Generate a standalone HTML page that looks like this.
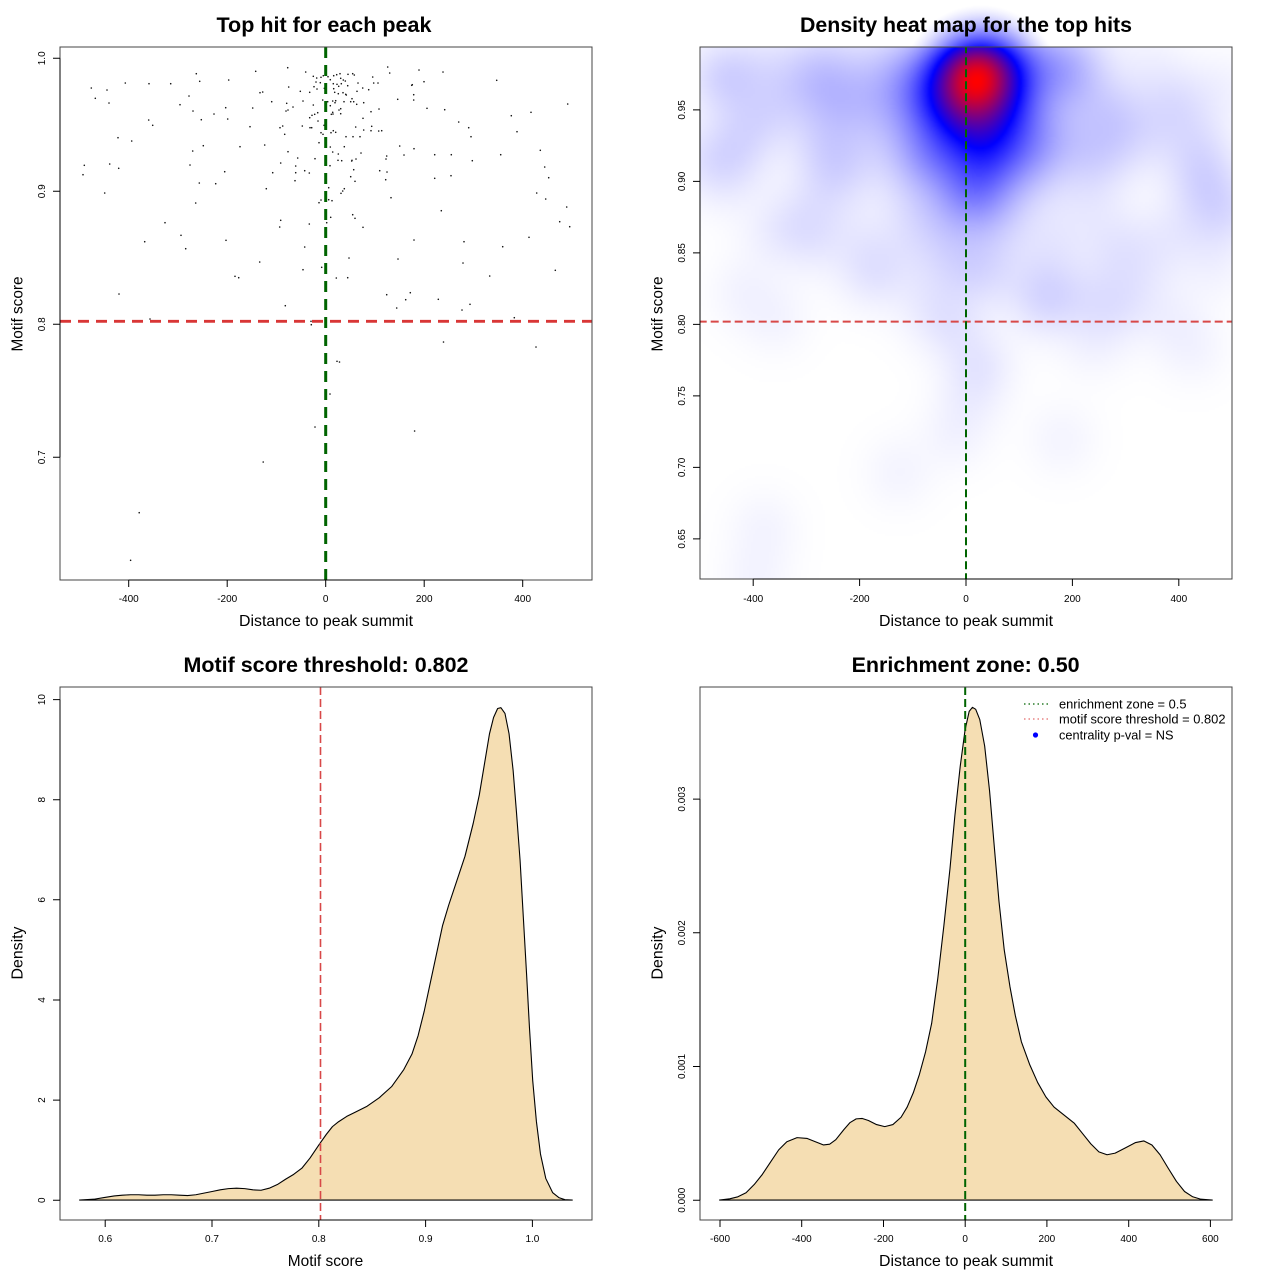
<!DOCTYPE html>
<html><head><meta charset="utf-8">
<style>
html,body{margin:0;padding:0;background:#fff;}
#wrap{position:relative;width:1280px;height:1280px;overflow:hidden;background:#fff;}
svg{position:absolute;left:0;top:0;}
#hm{position:absolute;left:700px;top:47px;width:532px;height:532px;}
text{font-family:"Liberation Sans",Arial,Helvetica,sans-serif;fill:#000;}
.t{font-weight:bold;font-size:21px;}
.al{font-size:16px;}
.tk{font-size:10px;}
.lg{font-size:12.5px;}
</style></head><body><div id="wrap">
<svg id="bg" width="1280" height="1280">
<defs>
<linearGradient id="lav" x1="0" y1="0" x2="0" y2="1">
<stop offset="0" stop-color="#d8d8ff"/><stop offset="0.5" stop-color="#eeeeff"/><stop offset="1" stop-color="#ffffff"/>
</linearGradient>
<radialGradient id="core" gradientUnits="userSpaceOnUse" cx="981" cy="85" r="80">
<stop offset="0" stop-color="#ff0000"/><stop offset="0.25" stop-color="#a00060"/><stop offset="0.45" stop-color="#0000ff"/><stop offset="0.75" stop-color="#8080ff" stop-opacity="0.6"/><stop offset="1" stop-color="#c0c0ff" stop-opacity="0"/>
</radialGradient>
</defs>
<rect x="700" y="47" width="532" height="532" fill="url(#lav)"/>
<ellipse cx="981" cy="85" rx="80" ry="100" fill="url(#core)"/>
</svg>
<canvas id="hm" width="266" height="266"></canvas>
<svg id="fg" width="1280" height="1280">
<!-- ============ Panel 1 ============ -->
<text class="t" x="324" y="32" text-anchor="middle" textLength="215" lengthAdjust="spacingAndGlyphs">Top hit for each peak</text>
<path id="pts" fill="none" stroke="#111" stroke-width="1.6" stroke-linecap="round" d="M287.7 67.7h0.01M255.7 71.3h0.01M305.7 72h0.01M196.3 73.7h0.01M313.3 76.3h0.01M316.7 78h0.01M228.7 80h0.01M199.7 81.3h0.01M125.3 83h0.01M149 83.7h0.01M170.7 83.7h0.01M316 82h0.01M314 86.7h0.01M317 89h0.01M91.3 88h0.01M107 90h0.01M288.7 87h0.01M300.3 91.3h0.01M309.7 92.3h0.01M260 92.7h0.01M262.7 92h0.01M189 96h0.01M95.3 98.3h0.01M109 103h0.01M271.7 101.7h0.01M286.7 103.3h0.01M303 101h0.01M180 104.7h0.01M313.3 105h0.01M293 107h0.01M225.7 107.7h0.01M252.7 108h0.01M193 111h0.01M288 110h0.01M286 111h0.01M317.7 112.7h0.01M314.7 114.3h0.01M312 115.3h0.01M214 114h0.01M309.7 117.7h0.01M148.7 120h0.01M201.3 119.7h0.01M227.7 119h0.01M318 121h0.01M152.7 125.3h0.01M250 126.7h0.01M282.7 126h0.01M280 127.7h0.01M302.3 126h0.01M310 127.7h0.01M311.7 127.7h0.01M284.7 134.3h0.01M118 137.7h0.01M131.7 141h0.01M319 142.7h0.01M203.3 145.7h0.01M264.7 145h0.01M240 146.7h0.01M192.7 151h0.01M288 151.7h0.01M297.7 158h0.01M315 158.7h0.01M280.7 163h0.01M84.3 165.3h0.01M109.7 164h0.01M118.7 168.3h0.01M190 165h0.01M295.7 166h0.01M224.7 171.7h0.01M272.7 172.7h0.01M295.7 172.7h0.01M304.7 170.7h0.01M309.3 173h0.01M83 174.7h0.01M295 180.7h0.01M199.3 183h0.01M215.7 183.7h0.01M266.3 188.7h0.01M387.7 67h0.01M419 70h0.01M389.7 73h0.01M443 72h0.01M333.7 75.7h0.01M336.7 74.7h0.01M340 73.7h0.01M348 74.3h0.01M352.7 73.7h0.01M354.3 75h0.01M323.3 75.7h0.01M321 77.3h0.01M328 76.7h0.01M372.7 77h0.01M330.3 79.7h0.01M340.7 78.3h0.01M343.3 80h0.01M345.3 81h0.01M496.7 80.3h0.01M424 81.7h0.01M320.3 82.7h0.01M333.3 83.7h0.01M337 84.3h0.01M341.3 83.7h0.01M347.7 85.7h0.01M358 83h0.01M373.7 83h0.01M378 83h0.01M411.7 85.3h0.01M412.3 84.7h0.01M324.3 88.3h0.01M333.7 88.7h0.01M338.7 86.3h0.01M362.7 88h0.01M368.7 89.7h0.01M357 91.3h0.01M334.7 92.3h0.01M338.3 93.7h0.01M343 92.7h0.01M346.3 95h0.01M345.7 94.3h0.01M413.7 94.7h0.01M352 98.7h0.01M397.7 99.3h0.01M413.7 100h0.01M322.7 100h0.01M327.7 101.7h0.01M332.7 101h0.01M335.7 100.7h0.01M335 102.7h0.01M344 101.7h0.01M350.7 101.7h0.01M353.7 101.7h0.01M356.7 104.3h0.01M363.7 102.7h0.01M330.3 105.7h0.01M567.7 104h0.01M427 108.3h0.01M444.7 109.7h0.01M379 109h0.01M340.7 108.7h0.01M339 110h0.01M371 111.7h0.01M531 112.3h0.01M332.7 112.3h0.01M331.3 114.3h0.01M333 114h0.01M340.7 113.7h0.01M511.3 115.7h0.01M363 118.3h0.01M458.7 122h0.01M468.7 127.7h0.01M355.7 127h0.01M371.7 126.3h0.01M363.7 130h0.01M371 130.7h0.01M378.7 131h0.01M381.7 130.7h0.01M324 125.3h0.01M321 132.7h0.01M323 134.3h0.01M331 132.7h0.01M333.3 130.7h0.01M335.7 132.3h0.01M517 131.7h0.01M346 136.7h0.01M353 136.7h0.01M360 136.7h0.01M471 136.7h0.01M399.7 146h0.01M414 148.7h0.01M330.3 147h0.01M344.3 146.7h0.01M332.7 152h0.01M338.3 154h0.01M361 153h0.01M540.3 150.3h0.01M404 155h0.01M434.7 154.7h0.01M451.3 154.7h0.01M500.7 154.7h0.01M386.7 156h0.01M338 160.3h0.01M341.7 160.7h0.01M356 159h0.01M351.7 161h0.01M352 160.3h0.01M386 159h0.01M472.3 160.7h0.01M330 165.7h0.01M544.7 167h0.01M353.7 169.7h0.01M379.7 170.7h0.01M387 172h0.01M350.7 176.7h0.01M355 181.3h0.01M385.7 179.7h0.01M434.7 178.3h0.01M451 175.7h0.01M548.7 177.7h0.01M328.7 187.7h0.01M344.3 188.7h0.01M104.7 193h0.01M195.7 203h0.01M319 202.7h0.01M165 222.7h0.01M280.7 220.3h0.01M279.7 227h0.01M309.3 224h0.01M144.7 241.7h0.01M181 235.3h0.01M185.7 248.7h0.01M226 240.3h0.01M304.7 247h0.01M259.7 262h0.01M303 269.7h0.01M235 276.3h0.01M238.7 277.7h0.01M119 294h0.01M285.3 305.7h0.01M150 319h0.01M311 321.3h0.01M311.3 324.7h0.01M342.7 191h0.01M341 193.3h0.01M321 200h0.01M328.7 199.7h0.01M332 200.7h0.01M391 197.7h0.01M536.7 193h0.01M545.7 199h0.01M566.7 207h0.01M441.3 210.7h0.01M352.7 214.7h0.01M355 218.3h0.01M330.7 217.3h0.01M326.7 222.7h0.01M559.7 221.7h0.01M569.7 226.7h0.01M363 227.3h0.01M529 237.3h0.01M414 240h0.01M464 241.7h0.01M502.7 246.7h0.01M349 258h0.01M398 259h0.01M463 263h0.01M321.7 267.3h0.01M555.3 270.3h0.01M489.7 276h0.01M336.3 278h0.01M347.7 277.7h0.01M386.7 294.7h0.01M410.3 292.7h0.01M405.7 299.7h0.01M438.3 299.3h0.01M396.7 308h0.01M470 304.3h0.01M462 310h0.01M514.3 317.7h0.01M443.5 342h0.01M536 347h0.01M337 361.3h0.01M339.5 362h0.01M330 394h0.01M315 427h0.01M414.6 431h0.01M263.2 462h0.01M139.2 512.7h0.01M130.6 560.3h0.01"/>
<line x1="60" y1="321.3" x2="592" y2="321.3" stroke="#d93636" stroke-width="2.8" stroke-dasharray="11 7"/>
<line x1="325.7" y1="47" x2="325.7" y2="580" stroke="#006400" stroke-width="3" stroke-dasharray="11 7"/>
<rect x="60" y="47" width="532" height="533" fill="none" stroke="#444" stroke-width="1"/>
<path fill="none" stroke="#000" stroke-width="1" d="M128.7 580H522.7M128.7 580v7M227.2 580v7M325.7 580v7M424.2 580v7M522.7 580v7M60 457.3V58.3M60 457.3h-7M60 324.3h-7M60 191.3h-7M60 58.3h-7"/>
<g class="tk" text-anchor="middle">
<text x="128.7" y="602">-400</text><text x="227.2" y="602">-200</text><text x="325.7" y="602">0</text><text x="424.2" y="602">200</text><text x="522.7" y="602">400</text>
<text transform="translate(45,457.3) rotate(-90)">0.7</text>
<text transform="translate(45,324.3) rotate(-90)">0.8</text>
<text transform="translate(45,191.3) rotate(-90)">0.9</text>
<text transform="translate(45,58.3) rotate(-90)">1.0</text>
</g>
<text class="al" x="326" y="626" text-anchor="middle" textLength="174" lengthAdjust="spacingAndGlyphs">Distance to peak summit</text>
<text class="al" transform="translate(22.5,314) rotate(-90)" text-anchor="middle" textLength="75" lengthAdjust="spacingAndGlyphs">Motif score</text>

<!-- ============ Panel 2 ============ -->
<text class="t" x="966" y="32" text-anchor="middle" textLength="332" lengthAdjust="spacingAndGlyphs">Density heat map for the top hits</text>
<line x1="700" y1="321.6" x2="1232" y2="321.6" stroke="#d84848" stroke-width="2" stroke-dasharray="8 4" stroke-dashoffset="1.3"/>
<line x1="966" y1="47" x2="966" y2="579" stroke="#006400" stroke-width="2" stroke-dasharray="8 4" stroke-dashoffset="1.7"/>
<rect x="700" y="47" width="532" height="532" fill="none" stroke="#444" stroke-width="1"/>
<path fill="none" stroke="#000" stroke-width="1" d="M753.2 579H1178.8M753.2 579v7M859.6 579v7M966 579v7M1072.4 579v7M1178.8 579v7M700 538.9V109.9M700 538.9h-7M700 467.4h-7M700 395.9h-7M700 324.4h-7M700 252.9h-7M700 181.4h-7M700 109.9h-7"/>
<g class="tk" text-anchor="middle">
<text x="753.2" y="602">-400</text><text x="859.6" y="602">-200</text><text x="966" y="602">0</text><text x="1072.4" y="602">200</text><text x="1178.8" y="602">400</text>
<text transform="translate(685,538.9) rotate(-90)">0.65</text>
<text transform="translate(685,467.4) rotate(-90)">0.70</text>
<text transform="translate(685,395.9) rotate(-90)">0.75</text>
<text transform="translate(685,324.4) rotate(-90)">0.80</text>
<text transform="translate(685,252.9) rotate(-90)">0.85</text>
<text transform="translate(685,181.4) rotate(-90)">0.90</text>
<text transform="translate(685,109.9) rotate(-90)">0.95</text>
</g>
<text class="al" x="966" y="626" text-anchor="middle" textLength="174" lengthAdjust="spacingAndGlyphs">Distance to peak summit</text>
<text class="al" transform="translate(662.5,314) rotate(-90)" text-anchor="middle" textLength="75" lengthAdjust="spacingAndGlyphs">Motif score</text>

<!-- ============ Panel 3 ============ -->
<text class="t" x="326" y="672" text-anchor="middle" textLength="285" lengthAdjust="spacingAndGlyphs">Motif score threshold: 0.802</text>
<g transform="translate(0,640) scale(0.4079)">
<path fill="#f5deb3" stroke="#000" stroke-width="1.1" vector-effect="non-scaling-stroke" stroke-linejoin="round" d="M195 1373L230 1371L255 1367L280 1363L300 1361L320 1360L340 1360L360 1361L380 1361L400 1360L420 1360L440 1361L460 1362L480 1360L500 1356L520 1352L540 1348L560 1345L580 1344L600 1345L620 1348L640 1349L660 1344L680 1335L700 1322L720 1310L740 1295L760 1270L783 1236L800 1212L815 1193L830 1181L850 1168L870 1158L900 1143L930 1122L960 1095L990 1053L1010 1015L1025 970L1040 910L1055 840L1070 770L1085 700L1100 650L1120 590L1140 530L1160 450L1175 380L1190 290L1200 230L1210 190L1220 168L1228 166L1238 180L1248 230L1258 320L1266 420L1275 540L1283 680L1291 820L1298 950L1306 1080L1315 1180L1325 1260L1338 1320L1355 1355L1370 1367L1385 1372L1403 1373Z"/>
</g>
<line x1="320.5" y1="687" x2="320.5" y2="1220" stroke="#d84848" stroke-width="1.6" stroke-dasharray="8 4"/>
<rect x="60" y="687" width="532" height="533" fill="none" stroke="#444" stroke-width="1"/>
<path fill="none" stroke="#000" stroke-width="1" d="M105.2 1220H532.4M105.2 1220v7M212 1220v7M318.8 1220v7M425.6 1220v7M532.4 1220v7M60 1200.2V699.6M60 1200.2h-7M60 1100.1h-7M60 1000h-7M60 899.8h-7M60 799.7h-7M60 699.6h-7"/>
<g class="tk" text-anchor="middle">
<text x="105.2" y="1242">0.6</text><text x="212" y="1242">0.7</text><text x="318.8" y="1242">0.8</text><text x="425.6" y="1242">0.9</text><text x="532.4" y="1242">1.0</text>
<text transform="translate(45,1200.2) rotate(-90)">0</text>
<text transform="translate(45,1100.1) rotate(-90)">2</text>
<text transform="translate(45,1000) rotate(-90)">4</text>
<text transform="translate(45,899.8) rotate(-90)">6</text>
<text transform="translate(45,799.7) rotate(-90)">8</text>
<text transform="translate(45,699.6) rotate(-90)">10</text>
</g>
<text class="al" x="325.5" y="1266" text-anchor="middle" textLength="75.5" lengthAdjust="spacingAndGlyphs">Motif score</text>
<text class="al" transform="translate(22.5,953) rotate(-90)" text-anchor="middle" textLength="53" lengthAdjust="spacingAndGlyphs">Density</text>

<!-- ============ Panel 4 ============ -->
<text class="t" x="965.6" y="672" text-anchor="middle" textLength="228" lengthAdjust="spacingAndGlyphs">Enrichment zone: 0.50</text>
<g transform="translate(640,640) scale(0.4079)">
<path fill="#f5deb3" stroke="#000" stroke-width="1.1" vector-effect="non-scaling-stroke" stroke-linejoin="round" d="M195 1373L220 1370L240 1365L260 1355L280 1335L300 1310L320 1280L340 1250L360 1230L385 1220L410 1222L430 1230L450 1238L465 1236L480 1225L500 1200L515 1183L530 1174L545 1173L560 1178L580 1188L600 1193L620 1188L640 1170L655 1145L670 1110L685 1065L700 1010L715 940L730 830L745 700L760 560L772 430L785 310L797 220L807 175L815 165L823 170L833 195L845 260L857 370L868 500L880 640L893 760L907 850L920 920L935 985L955 1040L975 1085L995 1120L1015 1145L1040 1165L1065 1185L1085 1210L1105 1235L1125 1255L1145 1262L1165 1258L1190 1245L1215 1232L1235 1228L1255 1238L1275 1262L1295 1295L1315 1327L1335 1352L1355 1365L1375 1371L1403 1373Z"/>
</g>
<line x1="965.2" y1="687" x2="965.2" y2="1220" stroke="#006400" stroke-width="2" stroke-dasharray="8 4"/>
<rect x="700" y="687" width="532" height="533" fill="none" stroke="#444" stroke-width="1"/>
<path fill="none" stroke="#000" stroke-width="1" d="M720 1220H1210.4M720 1220v7M801.7 1220v7M883.5 1220v7M965.2 1220v7M1046.9 1220v7M1128.7 1220v7M1210.4 1220v7M700 1200.2V799.1M700 1200.2h-7M700 1066.5h-7M700 932.8h-7M700 799.1h-7"/>
<g class="tk" text-anchor="middle">
<text x="720" y="1242">-600</text><text x="801.7" y="1242">-400</text><text x="883.5" y="1242">-200</text><text x="965.2" y="1242">0</text><text x="1046.9" y="1242">200</text><text x="1128.7" y="1242">400</text><text x="1210.4" y="1242">600</text>
<text transform="translate(685,1200.2) rotate(-90)">0.000</text>
<text transform="translate(685,1066.5) rotate(-90)">0.001</text>
<text transform="translate(685,932.8) rotate(-90)">0.002</text>
<text transform="translate(685,799.1) rotate(-90)">0.003</text>
</g>
<text class="al" x="966" y="1266" text-anchor="middle" textLength="174" lengthAdjust="spacingAndGlyphs">Distance to peak summit</text>
<text class="al" transform="translate(662.5,953) rotate(-90)" text-anchor="middle" textLength="53" lengthAdjust="spacingAndGlyphs">Density</text>
<!-- legend -->
<line x1="1024" y1="704" x2="1048" y2="704" stroke="#006400" stroke-width="1.2" stroke-dasharray="1.5 3"/>
<line x1="1024" y1="719" x2="1048" y2="719" stroke="#e46a6a" stroke-width="1.2" stroke-dasharray="1.5 3"/>
<circle cx="1035.5" cy="735" r="2.6" fill="#0000ff"/>
<text class="lg" x="1059" y="708.5" textLength="127.5" lengthAdjust="spacingAndGlyphs">enrichment zone = 0.5</text>
<text class="lg" x="1059" y="723.5" textLength="166.5" lengthAdjust="spacingAndGlyphs">motif score threshold = 0.802</text>
<text class="lg" x="1059" y="739.3" textLength="114.5" lengthAdjust="spacingAndGlyphs">centrality p-val = NS</text>
</svg>
</div>
<script>
(function(){
var c=document.getElementById('hm');if(!c||!c.getContext)return;
var ctx=c.getContext('2d');
var d=document.getElementById('pts').getAttribute('d');
var re=/M([\d.]+) ([\d.]+)/g,m,xs=[],ys=[];
while((m=re.exec(d))!==null){xs.push((parseFloat(m[1])-325.7)/0.4925);ys.push(1-(parseFloat(m[2])-58.3)/1329);}
var n=xs.length;if(!n)return;
function bw(a){var s=a.slice().sort(function(p,q){return p-q});var N=s.length;
 function qt(p){var h=(N-1)*p,lo=Math.floor(h),hi=Math.ceil(h);return s[lo]+(h-lo)*(s[hi]-s[lo]);}
 var mu=0,i;for(i=0;i<N;i++)mu+=s[i];mu/=N;var v=0;for(i=0;i<N;i++)v+=(s[i]-mu)*(s[i]-mu);v/=(N-1);
 var h=Math.min(Math.sqrt(v),(qt(0.75)-qt(0.25))/1.34);return 1.06*h*Math.pow(N,-0.2);}
var hx=bw(xs),hy=bw(ys);
var W=c.width,H=c.height,i,j,k,t;
var gx=new Float64Array(W*n),gy=new Float64Array(H*n);
for(i=0;i<W;i++){var x=-500+(i+0.5)*1000/W;for(k=0;k<n;k++){t=(x-xs[k])/hx;gx[i*n+k]=Math.exp(-0.5*t*t);}}
for(j=0;j<H;j++){var y=0.994-(j+0.5)*0.372/H;for(k=0;k<n;k++){t=(y-ys[k])/hy;gy[j*n+k]=Math.exp(-0.5*t*t);}}
var z=new Float64Array(W*H),mx=0;
for(j=0;j<H;j++){var b=j*n;for(i=0;i<W;i++){var s=0,a=i*n;for(k=0;k<n;k++)s+=gx[a+k]*gy[b+k];z[j*W+i]=s;if(s>mx)mx=s;}}
var img=ctx.createImageData(W,H),D=img.data;
for(var p=0;p<W*H;p++){t=z[p]/mx;var r,g,bb;
 if(t<0.5){r=g=255*(1-2*t);bb=255;}else{r=255*(2*t-1);g=0;bb=255*(2-2*t);}
 D[p*4]=r;D[p*4+1]=g;D[p*4+2]=bb;D[p*4+3]=255;}
ctx.putImageData(img,0,0);
})();
</script>
</body></html>
